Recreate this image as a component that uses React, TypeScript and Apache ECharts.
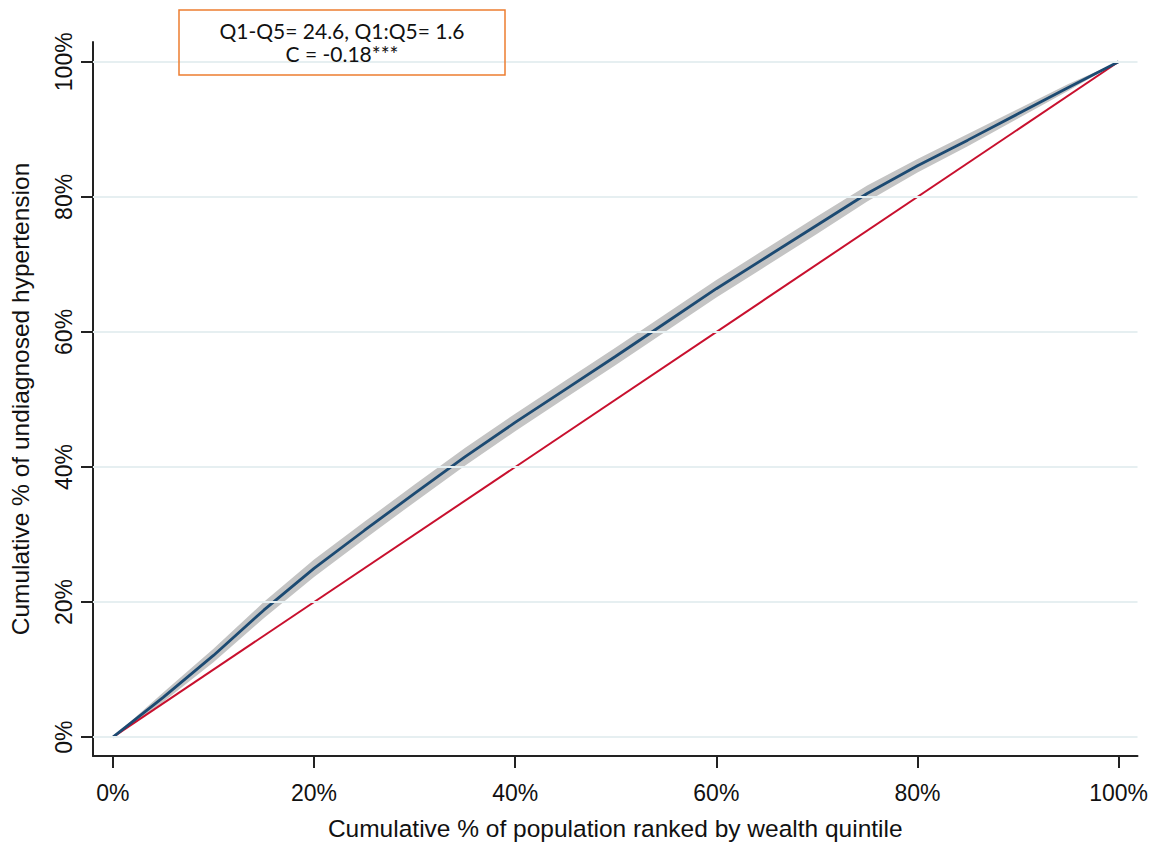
import React, { useEffect, useRef } from "react";
import * as echarts from "echarts";

const xPct = [0, 5, 10, 15, 20, 25, 30, 35, 40, 45, 50, 55, 60, 65, 70, 75, 80, 85, 90, 95, 100];
const curve = [0, 5.9, 12.1, 18.8, 25.0, 30.6, 36.1, 41.5, 46.6, 51.5, 56.4, 61.4, 66.4, 71.1, 75.8, 80.5, 84.6, 88.4, 92.3, 96.2, 100];
const ciLower = [0, 5.2, 11.1, 17.6, 23.7, 29.3, 34.8, 40.2, 45.3, 50.2, 55.1, 60.1, 65.1, 69.8, 74.5, 79.3, 83.6, 87.5, 91.6, 95.7, 100];
const ciUpper = [0, 6.6, 13.1, 20.0, 26.3, 31.9, 37.4, 42.8, 47.9, 52.8, 57.7, 62.7, 67.7, 72.4, 77.1, 81.7, 85.6, 89.3, 93.0, 96.7, 100];
const equality = [0, 100];
const tickValues = [0, 20, 40, 60, 80, 100];
const annotationLines = ["Q1-Q5= 24.6, Q1:Q5= 1.6", "C = -0.18***"];

export default function App() {
  const ref = useRef<HTMLDivElement>(null);
  useEffect(() => {
    if (!ref.current) return;
    const chart = echarts.init(ref.current, null, { renderer: "svg" });
    const bandPts = [
      ...xPct.map((x, i) => [x, ciUpper[i]]),
      ...xPct.map((x, i) => [x, ciLower[i]]).reverse(),
    ];
    const tickFont = { fontFamily: "Arial", fontSize: 23, color: "#111" };
    const nameFont = { fontFamily: "Arial", fontSize: 24.5, color: "#111" };
    chart.setOption({
      animation: false,
      backgroundColor: "#fff",
      grid: { left: 92, right: 11, top: 42, bottom: 82, containLabel: false },
      xAxis: {
        type: "value",
        min: -1.98,
        max: 101.88,
        name: "Cumulative % of population ranked by wealth quintile",
        nameLocation: "middle",
        nameGap: 60,
        nameTextStyle: nameFont,
        axisLine: { onZero: false, lineStyle: { color: "#222", width: 2 } },
        axisTick: { show: true, length: 12, customValues: tickValues, lineStyle: { color: "#222", width: 2 } },
        axisLabel: { customValues: tickValues, formatter: (v: number) => v + "%", margin: 25, ...tickFont },
        splitLine: { show: false },
      },
      yAxis: {
        type: "value",
        min: -2.79,
        max: 102.93,
        name: "Cumulative % of undiagnosed hypertension",
        nameLocation: "middle",
        nameGap: 60,
        nameRotate: 90,
        nameTextStyle: nameFont,
        axisLine: { show: true, onZero: false, lineStyle: { color: "#222", width: 2 } },
        axisTick: { show: true, length: 12, customValues: tickValues, lineStyle: { color: "#222", width: 2 } },
        axisLabel: { customValues: tickValues, rotate: 90, formatter: (v: number) => v + "%", margin: 18, ...tickFont },
        splitLine: { show: false },
      },
      series: [
        {
          type: "line",
          data: [],
          markLine: {
            silent: true,
            symbol: "none",
            label: { show: false },
            lineStyle: { color: "#e6eff1", width: 2, type: "solid" },
            data: tickValues.map((v) => ({ yAxis: v })),
          },
        },
        {
          type: "custom",
          renderItem: (params: any, api: any) => {
            const pts = bandPts.map((p) => api.coord(p));
            return { type: "polygon", shape: { points: pts }, style: { fill: "#c4c4c4" } };
          },
          data: [[0, 0]],
          z: 2,
        },
        {
          type: "line",
          data: equality.map((v) => [v, v]),
          symbol: "none",
          lineStyle: { color: "#c8102e", width: 2 },
          z: 3,
        },
        {
          type: "line",
          data: xPct.map((x, i) => [x, curve[i]]),
          symbol: "none",
          lineStyle: { color: "#1c4a72", width: 2.8 },
          z: 4,
        },
      ],
      graphic: [
        {
          type: "rect",
          shape: { x: 179, y: 10, width: 326, height: 65 },
          style: { fill: "none", stroke: "#ed7d31", lineWidth: 1.5 },
          z: 10,
        },
        {
          type: "text",
          x: 342,
          y: 30,
          style: { text: annotationLines[0], fontFamily: "Lato", fontSize: 21, fill: "#111", align: "center", verticalAlign: "middle" },
          z: 10,
        },
        {
          type: "text",
          x: 342,
          y: 53,
          style: { text: annotationLines[1], fontFamily: "Lato", fontSize: 21, fill: "#111", align: "center", verticalAlign: "middle" },
          z: 10,
        },
      ],
    });
    return () => chart.dispose();
  }, []);
  return <div ref={ref} style={{ position: "fixed", left: 0, top: 0, width: 1151, height: 846 }} />;
}
